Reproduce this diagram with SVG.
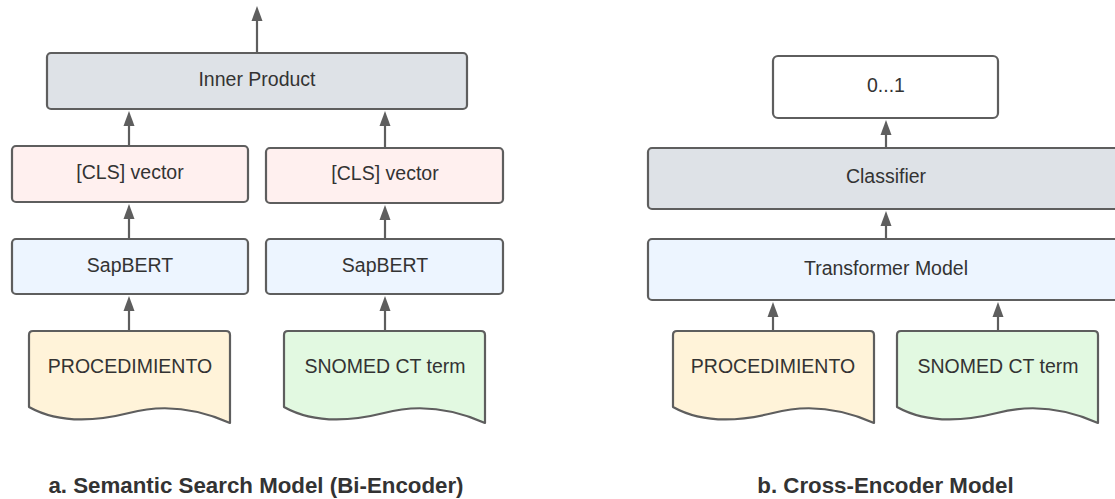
<svg xmlns="http://www.w3.org/2000/svg" xmlns:xlink="http://www.w3.org/1999/xlink" width="1115" height="499" viewBox="0 0 1115 499">
  <style>
    .box { stroke: #5e5e5e; stroke-width: 2.2; }
    .doc { stroke: #5e5e5e; stroke-width: 2.2; stroke-linejoin: round; }
    .grey { fill: #dee2e7; }
    .pink { fill: #fff0ef; }
    .blue { fill: #edf5ff; }
    .white { fill: #ffffff; }
    .yellow { fill: #fff3d9; }
    .green { fill: #e2f9e1; }
    .lbl { font-family: "Liberation Sans", Arial, sans-serif; font-size: 19.5px; fill: #333333; text-anchor: middle; }
    .title { font-family: "Liberation Sans", Arial, sans-serif; font-size: 22.3px; font-weight: bold; fill: #333333; text-anchor: middle; }
    .conn line { stroke: #5e5e5e; stroke-width: 2.2; marker-end: url(#arrow); }
  </style>
  <defs>
    <marker id="arrow" markerUnits="userSpaceOnUse" markerWidth="16" markerHeight="12" viewBox="0 0 16 12" refX="1" refY="6" orient="auto">
      <path d="M0,0.5 L15,6 L0,11.5 Z" fill="#5e5e5e"/>
    </marker>
    <path id="docshape" d="M0,4 Q0,0 4,0 H197 Q201,0 201,4 V92 C165,76 130,74 100,82 C60,92 25,90 0,76 Z"/>
  </defs>

  <g id="connectors" class="conn">
    <line x1="257" y1="52" x2="257" y2="20"/>
    <line x1="129" y1="146" x2="129" y2="125"/>
    <line x1="385" y1="148" x2="385" y2="125"/>
    <line x1="129" y1="239" x2="129" y2="218"/>
    <line x1="385" y1="239" x2="385" y2="219"/>
    <line x1="129" y1="331" x2="129" y2="310"/>
    <line x1="385" y1="331" x2="385" y2="310"/>
    <line x1="886" y1="148" x2="886" y2="134"/>
    <line x1="886" y1="239" x2="886" y2="225"/>
    <line x1="773" y1="331" x2="773" y2="316"/>
    <line x1="998" y1="331" x2="998" y2="316"/>
  </g>

  <g id="inner-product">
    <rect class="box grey" x="47" y="53" width="420" height="56" rx="4"/>
    <text class="lbl" x="257" y="86">Inner Product</text>
  </g>
  <g id="cls-left">
    <rect class="box pink" x="12" y="146" width="236" height="56" rx="4"/>
    <text class="lbl" x="130" y="179">[CLS] vector</text>
  </g>
  <g id="cls-right">
    <rect class="box pink" x="266" y="148" width="237" height="55" rx="4"/>
    <text class="lbl" x="385" y="180">[CLS] vector</text>
  </g>
  <g id="sapbert-left">
    <rect class="box blue" x="12" y="239" width="236" height="55" rx="4"/>
    <text class="lbl" x="130" y="271.5">SapBERT</text>
  </g>
  <g id="sapbert-right">
    <rect class="box blue" x="266" y="239" width="237" height="55" rx="4"/>
    <text class="lbl" x="385" y="271.5">SapBERT</text>
  </g>
  <g id="doc-proc-left">
    <use xlink:href="#docshape" class="doc yellow" transform="translate(29,331)"/>
    <text class="lbl" x="130" y="373">PROCEDIMIENTO</text>
  </g>
  <g id="doc-snomed-left">
    <use xlink:href="#docshape" class="doc green" transform="translate(284,331)"/>
    <text class="lbl" x="385" y="373">SNOMED CT term</text>
  </g>

  <g id="output-01">
    <rect class="box white" x="773" y="56" width="225" height="62" rx="5"/>
    <text class="lbl" x="886" y="92">0...1</text>
  </g>
  <g id="classifier">
    <rect class="box grey" x="648" y="148" width="480" height="61" rx="4"/>
    <text class="lbl" x="886" y="183">Classifier</text>
  </g>
  <g id="transformer">
    <rect class="box blue" x="648" y="239" width="480" height="61" rx="4"/>
    <text class="lbl" x="886" y="275">Transformer Model</text>
  </g>
  <g id="doc-proc-right">
    <use xlink:href="#docshape" class="doc yellow" transform="translate(673,331)"/>
    <text class="lbl" x="773" y="373">PROCEDIMIENTO</text>
  </g>
  <g id="doc-snomed-right">
    <use xlink:href="#docshape" class="doc green" transform="translate(897,331)"/>
    <text class="lbl" x="998" y="373">SNOMED CT term</text>
  </g>

  <g id="titles">
    <text class="title" x="256" y="493">a. Semantic Search Model (Bi-Encoder)</text>
    <text class="title" x="885.5" y="493">b. Cross-Encoder Model</text>
  </g>
</svg>
